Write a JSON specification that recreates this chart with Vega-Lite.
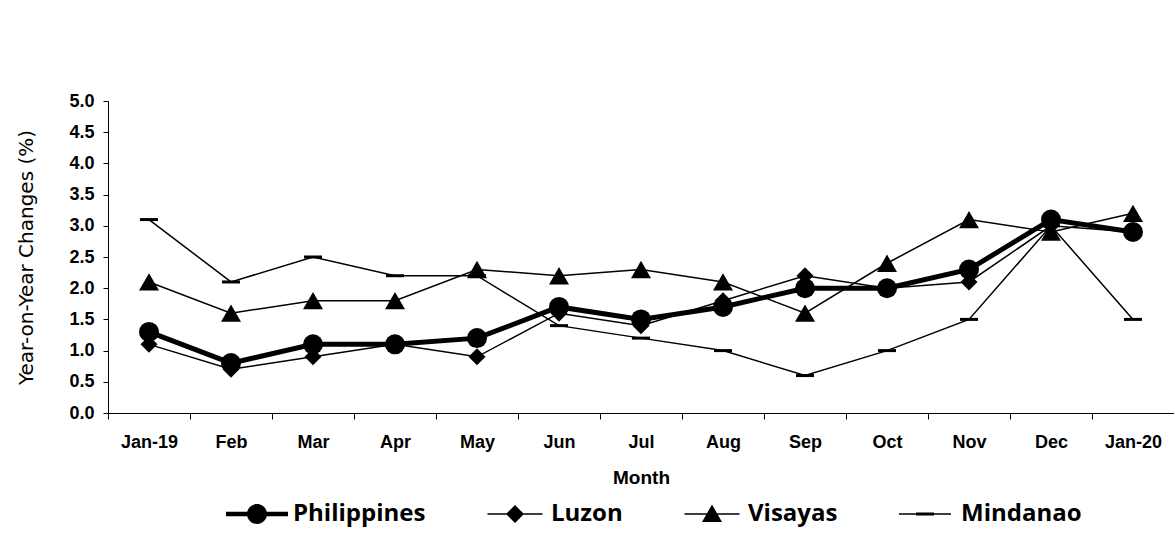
{
  "$schema": "https://vega.github.io/schema/vega-lite/v6.json",
  "width": 1066,
  "height": 312,
  "autosize": "none",
  "padding": {"left": 108, "top": 101, "right": 0, "bottom": 122},
  "background": "white",
  "config": {"view": {"stroke": null}, "font": "Liberation Sans"},
  "data": {"values": [
    {"month": "Jan-19", "series": "Philippines", "value": 1.3},
    {"month": "Feb", "series": "Philippines", "value": 0.8},
    {"month": "Mar", "series": "Philippines", "value": 1.1},
    {"month": "Apr", "series": "Philippines", "value": 1.1},
    {"month": "May", "series": "Philippines", "value": 1.2},
    {"month": "Jun", "series": "Philippines", "value": 1.7},
    {"month": "Jul", "series": "Philippines", "value": 1.5},
    {"month": "Aug", "series": "Philippines", "value": 1.7},
    {"month": "Sep", "series": "Philippines", "value": 2.0},
    {"month": "Oct", "series": "Philippines", "value": 2.0},
    {"month": "Nov", "series": "Philippines", "value": 2.3},
    {"month": "Dec", "series": "Philippines", "value": 3.1},
    {"month": "Jan-20", "series": "Philippines", "value": 2.9},
    {"month": "Jan-19", "series": "Luzon", "value": 1.1},
    {"month": "Feb", "series": "Luzon", "value": 0.7},
    {"month": "Mar", "series": "Luzon", "value": 0.9},
    {"month": "Apr", "series": "Luzon", "value": 1.1},
    {"month": "May", "series": "Luzon", "value": 0.9},
    {"month": "Jun", "series": "Luzon", "value": 1.6},
    {"month": "Jul", "series": "Luzon", "value": 1.4},
    {"month": "Aug", "series": "Luzon", "value": 1.8},
    {"month": "Sep", "series": "Luzon", "value": 2.2},
    {"month": "Oct", "series": "Luzon", "value": 2.0},
    {"month": "Nov", "series": "Luzon", "value": 2.1},
    {"month": "Dec", "series": "Luzon", "value": 3.0},
    {"month": "Jan-20", "series": "Luzon", "value": 2.9},
    {"month": "Jan-19", "series": "Visayas", "value": 2.1},
    {"month": "Feb", "series": "Visayas", "value": 1.6},
    {"month": "Mar", "series": "Visayas", "value": 1.8},
    {"month": "Apr", "series": "Visayas", "value": 1.8},
    {"month": "May", "series": "Visayas", "value": 2.3},
    {"month": "Jun", "series": "Visayas", "value": 2.2},
    {"month": "Jul", "series": "Visayas", "value": 2.3},
    {"month": "Aug", "series": "Visayas", "value": 2.1},
    {"month": "Sep", "series": "Visayas", "value": 1.6},
    {"month": "Oct", "series": "Visayas", "value": 2.4},
    {"month": "Nov", "series": "Visayas", "value": 3.1},
    {"month": "Dec", "series": "Visayas", "value": 2.9},
    {"month": "Jan-20", "series": "Visayas", "value": 3.2},
    {"month": "Jan-19", "series": "Mindanao", "value": 3.1},
    {"month": "Feb", "series": "Mindanao", "value": 2.1},
    {"month": "Mar", "series": "Mindanao", "value": 2.5},
    {"month": "Apr", "series": "Mindanao", "value": 2.2},
    {"month": "May", "series": "Mindanao", "value": 2.2},
    {"month": "Jun", "series": "Mindanao", "value": 1.4},
    {"month": "Jul", "series": "Mindanao", "value": 1.2},
    {"month": "Aug", "series": "Mindanao", "value": 1.0},
    {"month": "Sep", "series": "Mindanao", "value": 0.6},
    {"month": "Oct", "series": "Mindanao", "value": 1.0},
    {"month": "Nov", "series": "Mindanao", "value": 1.5},
    {"month": "Dec", "series": "Mindanao", "value": 3.0},
    {"month": "Jan-20", "series": "Mindanao", "value": 1.5}
  ]},
  "encoding": {
    "x": {
      "field": "month", "type": "ordinal",
      "sort": ["Jan-19","Feb","Mar","Apr","May","Jun","Jul","Aug","Sep","Oct","Nov","Dec","Jan-20"],
      "scale": {"type": "band", "paddingInner": 0, "paddingOuter": 0},
      "axis": {
        "title": "Month", "titleFontSize": 19, "titleFontWeight": "bold", "titlePadding": 17, "titleColor": "black",
        "labelAngle": 0, "labelFontSize": 18, "labelFontWeight": "bold", "labelColor": "black", "labelPadding": 14,
        "tickBand": "extent", "tickSize": 6, "tickColor": "black", "domainColor": "black", "grid": false
      }
    },
    "y": {
      "field": "value", "type": "quantitative",
      "scale": {"domain": [0, 5], "nice": false, "zero": true},
      "axis": {
        "title": "Year-on-Year Changes (%)", "titleFont": "DejaVu Sans", "titleFontSize": 20, "titleFontWeight": "normal", "titleColor": "black", "titlePadding": 32,
        "values": [0, 0.5, 1, 1.5, 2, 2.5, 3, 3.5, 4, 4.5, 5], "format": ".1f",
        "labelFontSize": 18, "labelFontWeight": "bold", "labelColor": "black", "labelPadding": 9,
        "tickSize": 5, "tickColor": "black", "domainColor": "black", "grid": false
      }
    }
  },
  "layer": [
    {
      "mark": {"type": "line", "color": "black"},
      "encoding": {
        "detail": {"field": "series"},
        "strokeWidth": {"condition": {"test": "datum.series === 'Philippines'", "value": 5}, "value": 1.5}
      }
    },
    {
      "mark": {"type": "point", "filled": true, "color": "black", "opacity": 1, "size": 400},
      "encoding": {
        "shape": {
          "field": "series", "type": "nominal",
          "scale": {"domain": ["Philippines","Luzon","Visayas","Mindanao"], "range": ["circle", "M0,-0.85L0.85,0L0,0.85L-0.85,0Z", "triangle-up", "M-0.9,-0.15H0.9V0.15H-0.9Z"]},
          "legend": null
        }
      }
    },
    {
      "mark": {"type": "point", "filled": true, "color": "black", "opacity": 0, "size": 400},
      "encoding": {
        "shape": {
          "field": "series", "type": "nominal",
          "scale": {"domain": ["Philippines","Luzon","Visayas","Mindanao"], "range": [
            "M-3.1,-0.22H3.1V0.22H-3.1Z M-1,0A1,1 0 1,1 1,0A1,1 0 1,1 -1,0Z",
            "M-2.75,-0.075H2.75V0.075H-2.75Z M0,-0.9L0.9,0L0,0.9L-0.9,0Z",
            "M-2.75,-0.075H2.75V0.075H-2.75Z M0,-0.95L1,0.8H-1Z",
            "M-2.6,-0.075H2.6V0.075H-2.6Z M-0.9,-0.15H0.9V0.15H-0.9Z"
          ]},
          "legend": {
            "title": null, "orient": "none", "legendX": 137, "legendY": 401, "direction": "horizontal",
            "labelFont": "Open Sans", "labelFontWeight": "bold", "labelFontSize": 24, "labelColor": "black",
            "symbolSize": 400, "labelOffset": 24, "columnPadding": 61,
            "symbolFillColor": "black", "symbolStrokeColor": "black", "symbolOpacity": 1, "symbolStrokeWidth": 0
          }
        }
      }
    }
  ],
  "resolve": {"scale": {"shape": "independent"}, "legend": {"shape": "independent"}}
}
